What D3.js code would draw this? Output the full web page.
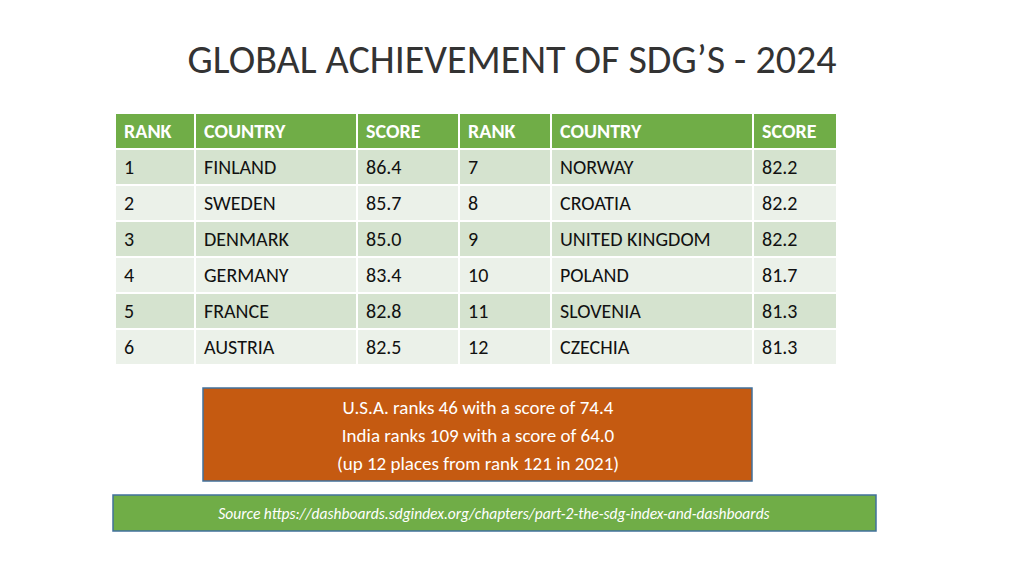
<!DOCTYPE html>
<html><head><meta charset="utf-8">
<script src="https://cdn.jsdelivr.net/npm/d3@7"></script>
<style>body{margin:0;background:#fff}svg{display:block}</style>
</head><body>
<script>
// table data
let headers = ['RANK','COUNTRY','SCORE','RANK','COUNTRY','SCORE'];
let ranks = [1,2,3,4,5,6,7,8,9,10,11,12];
let countries = ['FINLAND','SWEDEN','DENMARK','GERMANY','FRANCE','AUSTRIA',
    'NORWAY','CROATIA','UNITED KINGDOM','POLAND','SLOVENIA','CZECHIA'];
let scores = [86.4,85.7,85.0,83.4,82.8,82.5,82.2,82.2,82.2,81.7,81.3,81.3];
let noteLines = ['U.S.A. ranks 46 with a score of 74.4','India ranks 109 with a score of 64.0','(up 12 places from rank 121 in 2021)'];
let source = 'Source https://dashboards.sdgindex.org/chapters/part-2-the-sdg-index-and-dashboards';

let W=1024,H=576;
let font='Carlito, "Liberation Sans", "Open Sans", sans-serif';
let svg=d3.select('body').append('svg').attr('width',W).attr('height',H);

svg.append('text').attr('x',512).attr('y',73).attr('text-anchor','middle')
    .attr('font-family',font).attr('font-size',40).attr('fill','#333')
    .attr('font-weight',300).text('GLOBAL ACHIEVEMENT OF SDG\u2019S - 2024');

let colEdges=[116,196,358,460,552,754,838];
let sclRow=d3.scaleBand().domain(d3.range(7)).range([114,366]);

let rows=[headers];
for(let i=0;i<6;i++){
    rows.push([ranks[i],countries[i],scores[i].toFixed(1),ranks[i+6],countries[i+6],scores[i+6].toFixed(1)]);
}

let g=svg.append('g');
rows.forEach((r,ri)=>{
    r.forEach((v,ci)=>{
        let x=colEdges[ci],w=colEdges[ci+1]-colEdges[ci];
        let y=sclRow(ri),h=sclRow.bandwidth();
        g.append('rect').attr('x',x).attr('y',y).attr('width',w-2).attr('height',h-2)
            .attr('fill',ri==0?'#70ad47':(ri%2==1?'#d5e3cf':'#ebf1e9'));
        g.append('text').attr('x',x+8).attr('y',y+h/2+6)
            .attr('font-family',font).attr('font-size',20)
            .attr('font-weight',ri==0?'bold':'normal')
            .attr('fill',ri==0?'#fff':'#111').text(v);
    });
});

svg.append('rect').attr('x',203).attr('y',388).attr('width',549).attr('height',93)
    .attr('fill','#c55a11').attr('stroke','#41719c').attr('stroke-width',1.5);
svg.selectAll('.note').data(noteLines).enter().append('text')
    .attr('x',478).attr('y',(d,i)=>414+i*28).attr('text-anchor','middle')
    .attr('font-family',font).attr('font-size',19).attr('fill','#fff').text(d=>d);

svg.append('rect').attr('x',113).attr('y',495).attr('width',763).attr('height',36)
    .attr('fill','#70ad47').attr('stroke','#41719c').attr('stroke-width',1.5);
svg.append('text').attr('x',494).attr('y',519).attr('text-anchor','middle')
    .attr('font-family',font).attr('font-size',15.5).attr('font-style','italic')
    .attr('fill','#fff').text(source);
</script>
</body></html>
